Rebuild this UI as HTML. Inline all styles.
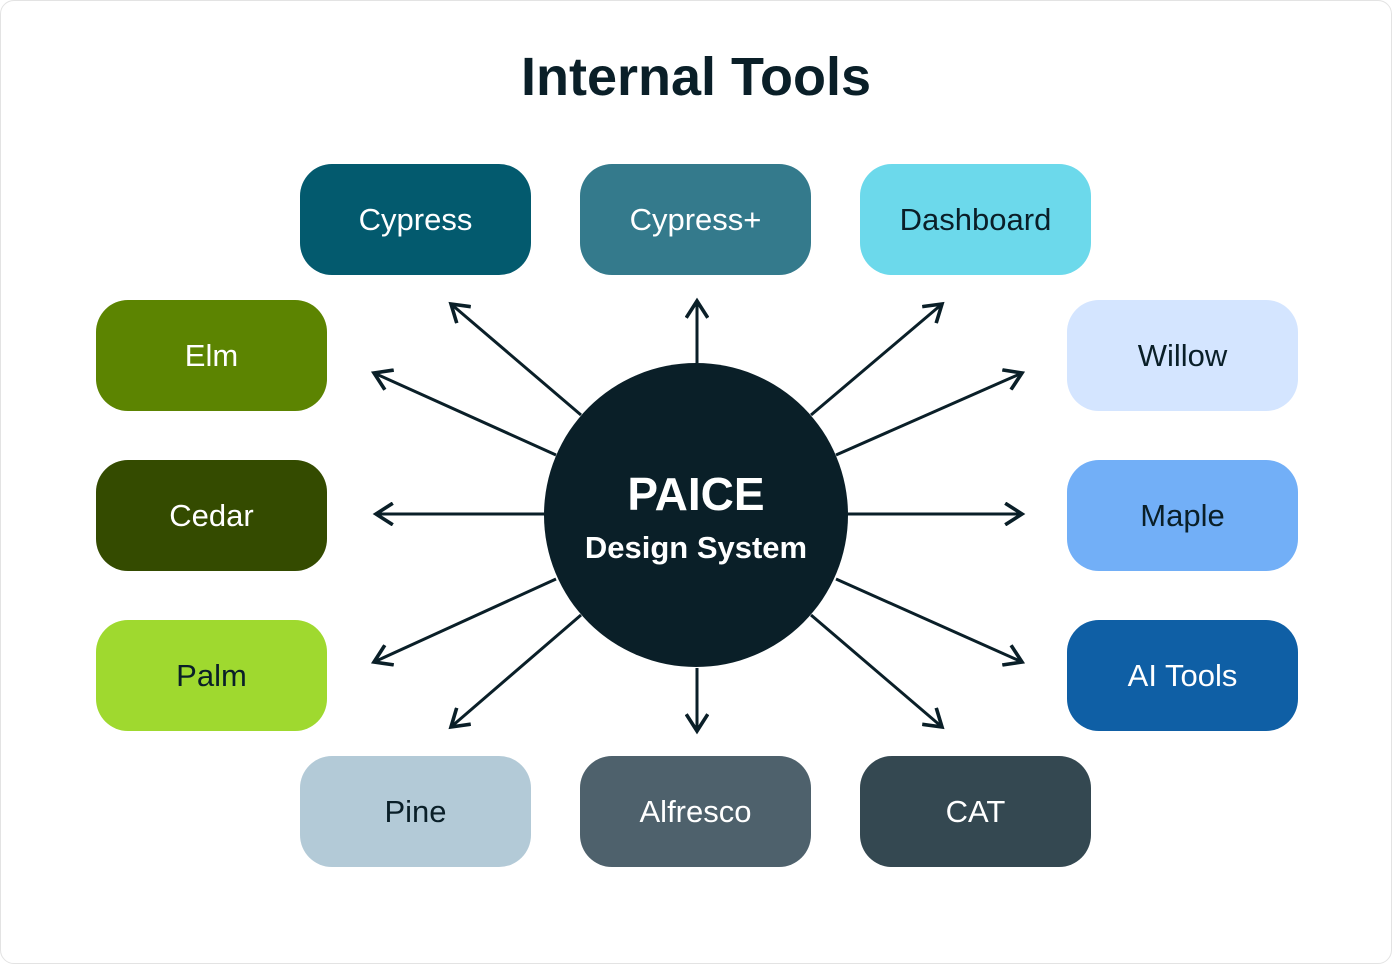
<!DOCTYPE html>
<html><head><meta charset="utf-8"><style>
html,body{margin:0;padding:0;background:#fff;}
body{width:1392px;height:964px;position:relative;overflow:hidden;font-family:"Liberation Sans","DejaVu Sans",sans-serif;}
.frame{position:absolute;left:0;top:0;width:1390px;height:962px;border:1px solid #e3e3e3;border-radius:14px;}
h1{position:absolute;left:0;width:1392px;top:42px;margin:0;text-align:center;font-size:54px;font-weight:bold;color:#0a1f28;line-height:70px;}
.b{position:absolute;width:231px;height:111px;border-radius:32px;display:flex;align-items:center;justify-content:center;font-size:31px;}
.w{color:#fff}.d{color:#0a1f28}
svg{position:absolute;left:0;top:0}
.c1{position:absolute;left:0;width:1392px;text-align:center;color:#fff;font-weight:bold;}
</style></head><body>
<div class="frame"></div>
<h1>Internal Tools</h1>
<div class="b w" style="left:300px;top:164px;background:#035a6e">Cypress</div>
<div class="b w" style="left:580px;top:164px;background:#347a8c">Cypress+</div>
<div class="b d" style="left:860px;top:164px;background:#6cd9eb">Dashboard</div>
<div class="b w" style="left:96px;top:300px;background:#5c8401">Elm</div>
<div class="b w" style="left:96px;top:460px;background:#344b00">Cedar</div>
<div class="b d" style="left:96px;top:620px;background:#9fd92f">Palm</div>
<div class="b d" style="left:1067px;top:300px;background:#d4e5ff">Willow</div>
<div class="b d" style="left:1067px;top:460px;background:#72aff7">Maple</div>
<div class="b w" style="left:1067px;top:620px;background:#0f5fa5">AI Tools</div>
<div class="b d" style="left:300px;top:756px;background:#b3cad7">Pine</div>
<div class="b w" style="left:580px;top:756px;background:#4e616c">Alfresco</div>
<div class="b w" style="left:860px;top:756px;background:#344851">CAT</div>
<svg width="1392" height="964" viewBox="0 0 1392 964">
<defs><marker id="a" viewBox="0 0 20 20" refX="17" refY="10" markerWidth="24" markerHeight="24" markerUnits="userSpaceOnUse" orient="auto"><path d="M3 1 L17 10 L3 19" fill="none" stroke="#0a1f28" stroke-width="3"/></marker></defs>
<g stroke="#0a1f28" stroke-width="3" fill="none" marker-end="url(#a)">
<line x1="697" y1="363" x2="697" y2="301"/>
<line x1="581" y1="415" x2="451" y2="304"/>
<line x1="811" y1="415" x2="942" y2="304"/>
<line x1="556" y1="455" x2="374" y2="373"/>
<line x1="544" y1="514" x2="376" y2="514"/>
<line x1="556" y1="579" x2="374" y2="662"/>
<line x1="581" y1="615" x2="451" y2="727"/>
<line x1="697" y1="668" x2="697" y2="731"/>
<line x1="811" y1="615" x2="942" y2="727"/>
<line x1="836" y1="455" x2="1022" y2="373"/>
<line x1="848" y1="514" x2="1022" y2="514"/>
<line x1="836" y1="579" x2="1022" y2="662"/>
</g>
<circle cx="696" cy="515" r="152" fill="#0a1f28"/>
</svg>
<div class="c1" style="top:466px;font-size:46px;line-height:56px;">PAICE</div>
<div class="c1" style="top:528px;font-size:31px;line-height:40px;">Design System</div>
</body></html>
